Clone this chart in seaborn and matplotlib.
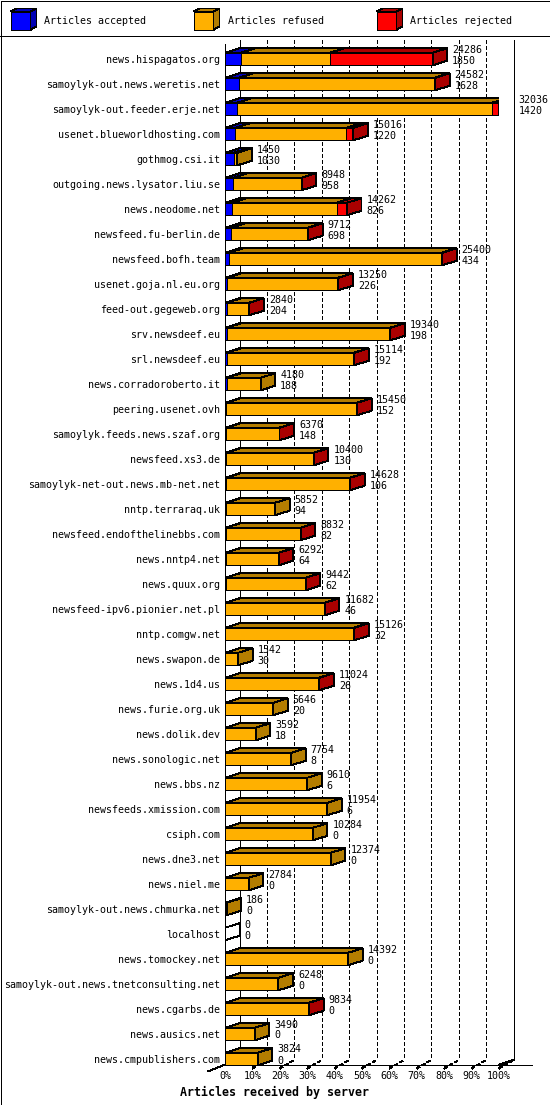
import matplotlib
matplotlib.use("Agg")
import matplotlib.pyplot as plt
import seaborn as sns
import pandas as pd
from matplotlib.patches import Polygon
from matplotlib.lines import Line2D

# ---------------- data ----------------
servers = [
    "news.hispagatos.org", "samoylyk-out.news.weretis.net", "samoylyk-out.feeder.erje.net",
    "usenet.blueworldhosting.com", "gothmog.csi.it", "outgoing.news.lysator.liu.se",
    "news.neodome.net", "newsfeed.fu-berlin.de", "newsfeed.bofh.team", "usenet.goja.nl.eu.org",
    "feed-out.gegeweb.org", "srv.newsdeef.eu", "srl.newsdeef.eu", "news.corradoroberto.it",
    "peering.usenet.ovh", "samoylyk.feeds.news.szaf.org", "newsfeed.xs3.de",
    "samoylyk-net-out.news.mb-net.net", "nntp.terraraq.uk", "newsfeed.endofthelinebbs.com",
    "news.nntp4.net", "news.quux.org", "newsfeed-ipv6.pionier.net.pl", "nntp.comgw.net",
    "news.swapon.de", "news.1d4.us", "news.furie.org.uk", "news.dolik.dev", "news.sonologic.net",
    "news.bbs.nz", "newsfeeds.xmission.com", "csiph.com", "news.dne3.net", "news.niel.me",
    "samoylyk-out.news.chmurka.net", "localhost", "news.tomockey.net",
    "samoylyk-out.news.tnetconsulting.net", "news.cgarbs.de", "news.ausics.net",
    "news.cmpublishers.com",
]
offered = [24286, 24582, 32036, 15016, 1450, 8948, 14262, 9712, 25400, 13250,
           2840, 19340, 15114, 4180, 15450, 6370, 10400, 14628, 5852, 8832,
           6292, 9442, 11682, 15126, 1542, 11024, 5646, 3592, 7754, 9610,
           11954, 10284, 12374, 2784, 186, 0, 14392, 6248, 9834, 3490, 3824]
accepted = [1850, 1628, 1420, 1220, 1030, 958, 826, 698, 434, 226,
            204, 198, 192, 188, 152, 148, 130, 106, 94, 82,
            64, 62, 46, 32, 30, 26, 20, 18, 8, 6,
            6, 0, 0, 0, 0, 0, 0, 0, 0, 0, 0]
rejected = [12033, 120, 800, 820, 0, 40, 1200, 40, 60, 40,
            20, 40, 40, 0, 40, 40, 40, 40, 0, 40,
            40, 40, 40, 100, 0, 40, 0, 0, 0, 0,
            0, 0, 0, 0, 0, 0, 0, 0, 40, 0, 0]
refused = [10403, 22834, 29816, 12976, 420, 7950, 12236, 8974, 24906, 12984,
           2616, 19102, 14882, 3992, 15258, 6182, 10230, 14482, 5758, 8710,
           6188, 9340, 11596, 14994, 1512, 10958, 5626, 3574, 7746, 9604,
           11948, 10284, 12374, 2784, 186, 0, 14392, 6248, 9794, 3490, 3824]
pct_ticks = [0, 10, 20, 30, 40, 50, 60, 70, 80, 90, 100]
tick_labels = [f"{p}%" for p in pct_ticks]
legend_labels = ["Articles accepted", "Articles refused", "Articles rejected"]
x_title = "Articles received by server"

# ---------------- style ----------------
BLUE, BLUE_D = "#0000FF", "#0000B4"
ORANGE, ORANGE_D = "#FFB000", "#B47D00"
RED, RED_D = "#FF0000", "#AA0000"

W, H, DPI = 550, 1105, 100
sns.set_theme(style="white")
plt.rcParams["font.family"] = ["DejaVu Sans Mono"]
plt.rcParams["text.antialiased"] = True
plt.rcParams["lines.antialiased"] = False
plt.rcParams["patch.antialiased"] = False
FS = 7.2
LW = 0.68

fig = plt.figure(figsize=(W / DPI, H / DPI), dpi=DPI, facecolor="white")


def fx(p):
    return p / W


def fy(p):
    return 1 - p / H


AX_L, AX_R, AX_T, AX_B = 225, 499, 37, 1066
ROW0, ROWSTEP = 59, 25
ax = fig.add_axes([fx(AX_L), fy(AX_B), (AX_R - AX_L) / W, (AX_B - AX_T) / H])
ax.set_facecolor("none")

df = pd.DataFrame({"server": servers, "accepted": accepted, "refused": refused,
                   "rejected": rejected, "offered": offered})
df["acc_ref"] = df["accepted"] + df["refused"]
df["total"] = df["acc_ref"] + df["rejected"]

BAR_H = 0.5
for col, c in [("total", RED), ("acc_ref", ORANGE), ("accepted", BLUE)]:
    sns.barplot(data=df, x=col, y="server", orient="h", color=c, saturation=1,
                width=BAR_H, edgecolor="black", linewidth=LW, errorbar=None,
                ax=ax, zorder=3)

xmax = max(offered)
ax.set_xlim(0, xmax)
ytop = (AX_T - ROW0) / ROWSTEP
ybot = (AX_B - ROW0) / ROWSTEP
ax.set_ylim(ybot, ytop)


def px_x(p):  # horizontal pixels -> data units
    return p * xmax / (AX_R - AX_L)


def px_y(p):  # vertical pixels -> row units
    return p / ROWSTEP


DX = px_x(14.5)
DY = px_y(4.5)

# ---------- walls, grid, floor ----------
y_back = px_y(1060 - ROW0)
y_front = y_back + DY
y_wall_top = px_y(40 - ROW0)
tick_vals = [p / 100 * xmax for p in pct_ticks]
for t, p in zip(tick_vals, pct_ticks):
    solid = p in (0, 100)
    ax.add_line(Line2D([t + DX, t + DX], [y_wall_top, y_back], color="black", lw=LW,
                       ls="-" if solid else (0, (4, 3)), zorder=1, clip_on=False))
ax.add_line(Line2D([0, 0], [px_y(44 - ROW0), y_front], color="black", lw=LW, zorder=1, clip_on=False))
ax.add_line(Line2D([0, px_x(307)], [y_front, y_front], color="black", lw=LW, zorder=1, clip_on=False))
ax.add_line(Line2D([0, px_x(-17)], [y_front, y_front + px_y(7)], color="black", lw=LW, zorder=1, clip_on=False))
ax.add_line(Line2D([xmax, xmax + DX], [y_front, y_back], color="black", lw=LW, zorder=1, clip_on=False))
for t in tick_vals[1:]:
    ax.add_line(Line2D([t, t], [y_front, y_front + px_y(4)], color="black", lw=LW, zorder=1, clip_on=False))
    ax.add_line(Line2D([t, t + DX], [y_front + px_y(4), y_back], color="black", lw=LW,
                       ls=(0, (4, 3)), zorder=1, clip_on=False))

# ---------- 3D tops and sides ----------
for i, (a, r, j) in enumerate(zip(accepted, refused, rejected)):
    yt = i - BAR_H / 2
    yb = i + BAR_H / 2
    segs = [(0, a, BLUE_D), (a, a + r, ORANGE_D), (a + r, a + r + j, RED_D)]
    last = None
    for x0, x1, dc in segs:
        if x1 > x0:
            ax.add_patch(Polygon([(x0, yt), (x1, yt), (x1 + DX, yt - DY), (x0 + DX, yt - DY)],
                                 closed=True, facecolor=dc, edgecolor="black", lw=LW, zorder=4))
            last = (x1, dc)
    if last is None:
        xe, fc = 0, "none"
    else:
        xe, fc = last
    ax.add_patch(Polygon([(xe, yt), (xe + DX, yt - DY), (xe + DX, yb - DY), (xe, yb)],
                         closed=True, facecolor=fc, edgecolor="black", lw=LW, zorder=4))
    ax.annotate(str(offered[i]), xy=(offered[i], i), xytext=(19.5, 9.5), textcoords="offset pixels",
                ha="left", va="center", fontsize=FS, color="black", zorder=5)
    ax.annotate(str(accepted[i]), xy=(offered[i], i), xytext=(19.5, -1.5), textcoords="offset pixels",
                ha="left", va="center", fontsize=FS, color="black", zorder=5)

# ---------- axes text ----------
ax.set_yticks(range(len(servers)))
ax.set_yticklabels(servers, fontsize=FS)
ax.set_xticks(tick_vals)
ax.set_xticklabels(tick_labels, fontsize=FS)
ax.tick_params(axis="y", length=0, pad=3.6, colors="black")
ax.tick_params(axis="x", length=0, pad=3.5, colors="black")
ax.set_xlabel("")
ax.set_ylabel("")
for s in ax.spines.values():
    s.set_visible(False)
ax.grid(False)

fig.text(fx(275), fy(1092), x_title, ha="center", va="center", fontsize=8.4,
         fontweight="bold", color="black")

# ---------- legend header and frame ----------
fig.add_artist(Line2D([0, 1], [fy(35.5), fy(35.5)], color="black", lw=LW, transform=fig.transFigure))
for xs, ys in [([0.5, 549.5], [0.5, 0.5]), ([0.5, 549.5], [1104.5, 1104.5]),
               ([0.5, 0.5], [0.5, 1104.5]), ([549.5, 549.5], [0.5, 1104.5])]:
    fig.add_artist(Line2D([fx(v) for v in xs], [fy(v) for v in ys], color="black", lw=LW,
                          transform=fig.transFigure))
for x0, (fc, dc), lab in zip([10.5, 193.5, 376.5],
                             [(BLUE, BLUE_D), (ORANGE, ORANGE_D), (RED, RED_D)], legend_labels):
    w, h, dx, dy, y0 = 20, 18, 6, 3, 11.5
    front = [(x0, y0), (x0 + w, y0), (x0 + w, y0 + h), (x0, y0 + h)]
    top = [(x0, y0), (x0 + w, y0), (x0 + w + dx, y0 - dy), (x0 + dx, y0 - dy)]
    side = [(x0 + w, y0), (x0 + w + dx, y0 - dy), (x0 + w + dx, y0 + h - dy), (x0 + w, y0 + h)]
    for pts, c in [(front, fc), (top, dc), (side, dc)]:
        fig.add_artist(Polygon([(fx(px), fy(py)) for px, py in pts], closed=True, facecolor=c,
                               edgecolor="black", lw=LW, transform=fig.transFigure))
    fig.text(fx(x0 + 34), fy(20.5), lab, ha="left", va="center", fontsize=FS, color="black")

fig.savefig("out.png", dpi=DPI, facecolor="white")
